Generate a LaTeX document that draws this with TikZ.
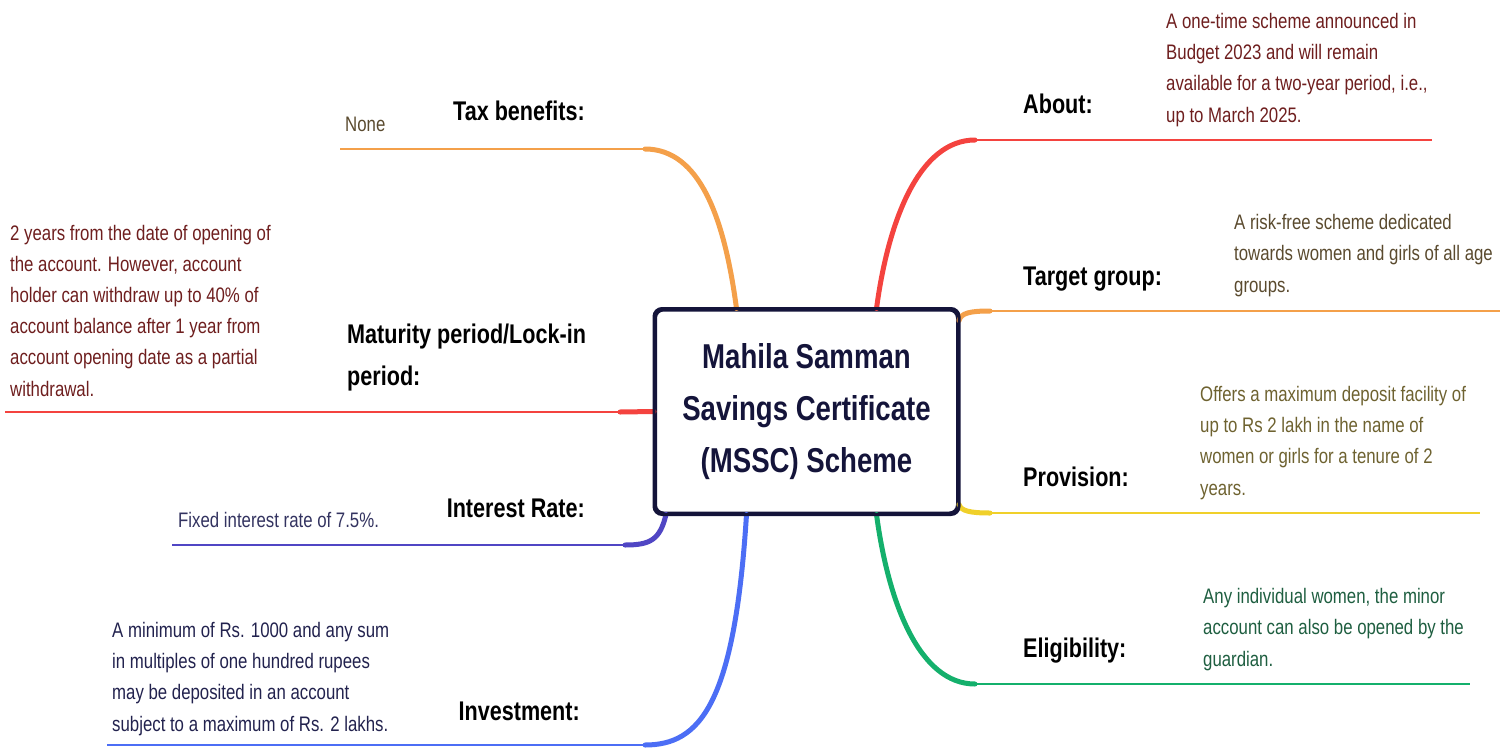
\documentclass[tikz,border=0pt]{standalone}
\usepackage{fontspec}
\setmainfont{Liberation Sans}[FakeStretch=0.8]
\definecolor{cborder}{HTML}{14143A}
\definecolor{lred}{HTML}{F4433F}
\definecolor{lorange}{HTML}{F4A04A}
\definecolor{lyellow}{HTML}{F0D02A}
\definecolor{lgreen}{HTML}{14B06C}
\definecolor{lindigo}{HTML}{5046C4}
\definecolor{lblue}{HTML}{4C6EF5}
\definecolor{tred}{HTML}{6E1E1E}
\definecolor{tbrown}{HTML}{5A4A2E}
\definecolor{tolive}{HTML}{6E6230}
\definecolor{tgreen}{HTML}{1E5E40}
\definecolor{tindigo}{HTML}{333360}
\definecolor{tblue}{HTML}{22224E}
\tikzset{
  headlbl/.style={anchor=base west,inner sep=0,font=\fontsize{27}{42}\selectfont\bfseries,text=black,align=left},
  detail/.style={anchor=base west,inner sep=0,font=\fontsize{21}{31.2}\selectfont,align=left},
  curvepart/.style={line width=5,line cap=round},
  flatpart/.style={line width=2.6}
}
\begin{document}
\begin{tikzpicture}[x=1pt,y=-1pt]
\useasboundingbox (0,0) rectangle (1509,747);
% central node
\node[draw=cborder,fill=white,line width=3,rounded corners=8,minimum width=302,minimum height=203,inner sep=0,
  font=\fontsize{34.5}{52}\selectfont\bfseries,text=cborder,align=center] (c) at (806.5,411.5)
  {Mahila Samman\\Savings Certificate\\(MSSC) Scheme};
% end coordinates
\coordinate (aboutE) at (1432,140);
\coordinate (targetE) at (1500,311);
\coordinate (provE) at (1480,513);
\coordinate (eligE) at (1470,684);
\coordinate (taxE) at (340,149);
\coordinate (matE) at (5,412);
\coordinate (intE) at (172,545);
\coordinate (invE) at (107,745);
% right side
\draw[lred,curvepart] ([xshift=70pt]c.north) .. controls ++(12,-90) and (920,140) .. (975,140);
\draw[lred,flatpart] (970,140) -- (aboutE);
\draw[lorange,curvepart] ([yshift=-12pt]c.north east) .. controls (961,313) and (970,311) .. (990,311);
\draw[lorange,flatpart] (985,311) -- (targetE);
\draw[lyellow,curvepart] ([yshift=10pt]c.south east) .. controls (961,511) and (970,513) .. (990,513);
\draw[lyellow,flatpart] (985,513) -- (provE);
\draw[lgreen,curvepart] ([xshift=70pt]c.south) .. controls ++(12,90) and (920,684) .. (975,684);
\draw[lgreen,flatpart] (970,684) -- (eligE);
% left side
\draw[lorange,curvepart] ([xshift=-70pt]c.north) .. controls ++(-12,-90) and (700,149) .. (645,149);
\draw[lorange,flatpart] (650,149) -- (taxE);
\draw[lred,curvepart] (c.west) -- (620,412);
\draw[lred,flatpart] (625,412) -- (matE);
\draw[lindigo,curvepart] ([xshift=12pt]c.south west) .. controls (660,540) and (650,545) .. (625,545);
\draw[lindigo,flatpart] (630,545) -- (intE);
\draw[lblue,curvepart] ([xshift=-60pt]c.south) .. controls ++(-12,190) and (700,745) .. (645,745);
\draw[lblue,flatpart] (650,745) -- (invE);
% redraw node border on top
\draw[cborder,line width=3,rounded corners=8] (c.south west) rectangle (c.north east);
% labels
\node[headlbl] (aboutL) at (1023,113) {About:};
\node[headlbl] (targetL) at (1023,285) {Target group:};
\node[headlbl] (provL) at (1023,486) {Provision:};
\node[headlbl] (eligL) at (1023,657) {Eligibility:};
\node[headlbl,anchor=base east] (taxL) at (585,120) {Tax benefits:};
\node[headlbl] (matL) at (347,385) {Maturity period/Lock-in\\period:};
\node[headlbl,anchor=base east] (intL) at (585,517) {Interest Rate:};
\node[headlbl,anchor=base east] (invL) at (580,720) {Investment:};
% details (anchor at baseline of last line)
\node[detail,text=tred] (aboutD) at (1166,122) {A one-time scheme announced in\\Budget 2023 and will remain\\available for a two-year period, i.e.,\\up to March 2025.};
\node[detail,text=tbrown] (targetD) at (1234,292) {A risk-free scheme dedicated\\towards women and girls of all age\\groups.};
\node[detail,text=tolive] (provD) at (1200,495) {Offers a maximum deposit facility of\\up to Rs 2 lakh in the name of\\women or girls for a tenure of 2\\years.};
\node[detail,text=tgreen] (eligD) at (1203,666) {Any individual women, the minor\\account can also be opened by the\\guardian.};
\node[detail,text=tbrown] (taxD) at (345,131) {None};
\node[detail,text=tred] (matD) at (10,396) {2 years from the date of opening of\\the account. However, account\\holder can withdraw up to 40\% of\\account balance after 1 year from\\account opening date as a partial\\withdrawal.};
\node[detail,text=tindigo] (intD) at (178,527) {Fixed interest rate of 7.5\%.};
\node[detail,text=tblue] (invD) at (112,731) {A minimum of Rs. 1000 and any sum\\in multiples of one hundred rupees\\may be deposited in an account\\subject to a maximum of Rs. 2 lakhs.};
\end{tikzpicture}
\end{document}
